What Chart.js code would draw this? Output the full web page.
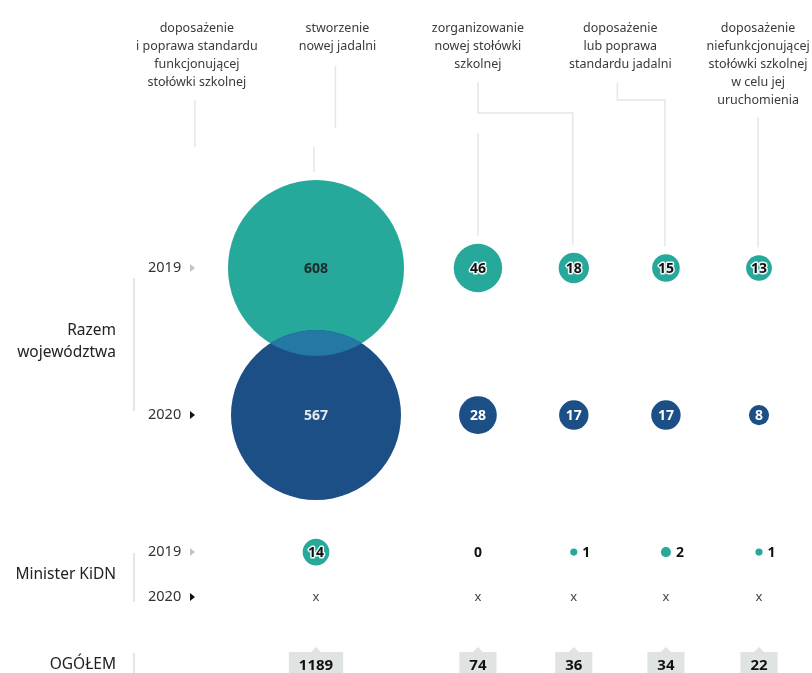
<!DOCTYPE html>
<html lang="pl">
<head>
<meta charset="utf-8">
<title>Stołówki szkolne 2019-2020</title>
<script src="https://cdn.jsdelivr.net/npm/chart.js@4.4.1/dist/chart.umd.min.js"></script>
<style>
  html, body { margin: 0; padding: 0; background: #fff; }
  #wrap { position: relative; width: 812px; height: 673px; }
</style>
</head>
<body>
<div id="wrap"><canvas id="bubblechart"></canvas></div>
<script>
    // ---------- DANE ----------
    const kategorie = [
        ["doposażenie", "i poprawa standardu", "funkcjonującej", "stołówki szkolnej"],
        ["stworzenie", "nowej jadalni"],
        ["zorganizowanie", "nowej stołówki", "szkolnej"],
        ["doposażenie", "lub poprawa", "standardu jadalni"],
        ["doposażenie", "niefunkcjonującej", "stołówki szkolnej", "w celu jej", "uruchomienia"]
    ];
    const lata = ["2019", "2020"];
    const grupy = [["Razem", "województwa"], ["Minister KiDN"], ["OGÓŁEM"]];

    const wojewodztwa2019 = [608, 46, 18, 15, 13];
    const wojewodztwa2020 = [567, 28, 17, 17, 8];
    const minister2019 = [14, 0, 1, 2, 1];
    const minister2020 = [null, null, null, null, null];   // "x" w tabeli
    const ogolem = [1189, 74, 36, 34, 22];

    // ---------- UKŁAD (jednostki osi, nie dane) ----------
    const kolumnyX = [0, 1.74, 2.77, 3.76, 4.76];
    const naglowkiX = [-1.28, 0.23, 1.74, 3.27, 4.75];
    const wierszeY = [0, 1, 1.932, 2.238, 2.70];
    const SKALA_R = 3.57;           // promień = SKALA_R * sqrt(wartość)

    const TURKUS = "#26a89b";
    const GRANAT = "#1b4f85";
    const WSPOLNY = "#2478a4";
    const FONT = '"Noto Sans", "DejaVu Sans", sans-serif';

    function punkty(wartosci, wiersz) {
        return wartosci.map((v, i) => ({ x: kolumnyX[i], y: wierszeY[wiersz], v: v }));
    }

    const px = (chart, i) => chart.scales.x.getPixelForValue(kolumnyX[i]);
    const py = (chart, w) => chart.scales.y.getPixelForValue(wierszeY[w]);

    function gornaKrawedz(chart, i) {
        const el = chart.getDatasetMeta(0).data[i];
        return el.y - el.options.radius - 8;
    }

    // ---------- LINIE OD NAGŁÓWKÓW ----------
    function rysujLinie(chart) {
        const ctx = chart.ctx;
        const hx = i => chart.scales.x.getPixelForValue(naglowkiX[i]);
        const odcinki = [
            [[hx(0) - 2, 100], [hx(0) - 2, 147]],
            [[hx(1) - 2, 66], [hx(1) - 2, 128]],
            [[px(chart, 0) - 2, 147], [px(chart, 0) - 2, gornaKrawedz(chart, 0)]],
            [[hx(2), 82], [hx(2), 113], [px(chart, 2) - 1, 113], [px(chart, 2) - 1, gornaKrawedz(chart, 2)]],
            [[px(chart, 1), 133], [px(chart, 1), gornaKrawedz(chart, 1)]],
            [[hx(3) - 3, 83], [hx(3) - 3, 100], [px(chart, 3) - 1, 100], [px(chart, 3) - 1, gornaKrawedz(chart, 3)]],
            [[hx(4), 117], [hx(4), gornaKrawedz(chart, 4)]]
        ];
        ctx.save();
        ctx.strokeStyle = "#e6e6e6";
        ctx.lineWidth = 1.5;
        odcinki.forEach(o => {
            ctx.beginPath();
            o.forEach((p, k) => k === 0 ? ctx.moveTo(p[0], p[1]) : ctx.lineTo(p[0], p[1]));
            ctx.stroke();
        });
        ctx.restore();
    }

    function rysujNaglowki(chart) {
        const ctx = chart.ctx;
        ctx.save();
        ctx.font = "12.5px " + FONT;
        ctx.fillStyle = "#3a3a3a";
        ctx.textAlign = "center";
        ctx.textBaseline = "middle";
        kategorie.forEach((linie, i) => {
            const x = chart.scales.x.getPixelForValue(naglowkiX[i]);
            linie.forEach((t, k) => ctx.fillText(t, x, 28 + k * 18.2));
        });
        ctx.restore();
    }

    // ---------- OPISY WIERSZY ----------
    function rysujOpisyWierszy(chart) {
        const ctx = chart.ctx;
        ctx.save();
        ctx.textBaseline = "middle";

        // lata + strzałki
        ctx.font = "14.5px " + FONT;
        [0, 1, 2, 3].forEach(w => {
            const y = py(chart, w);
            ctx.fillStyle = "#333";
            ctx.textAlign = "left";
            ctx.fillText(lata[w % 2], 148, y);
            ctx.fillStyle = w % 2 === 0 ? "#c4c4c4" : "#111";
            ctx.beginPath();
            ctx.moveTo(190, y - 4);
            ctx.lineTo(195, y);
            ctx.lineTo(190, y + 4);
            ctx.closePath();
            ctx.fill();
        });

        // nazwy grup
        ctx.font = "15.5px " + FONT;
        ctx.fillStyle = "#222";
        ctx.textAlign = "right";
        const srodekRazem = (py(chart, 0) + py(chart, 1)) / 2;
        ctx.fillText(grupy[0][0], 116, srodekRazem - 11);
        ctx.fillText(grupy[0][1], 116, srodekRazem + 11);
        ctx.fillText(grupy[1][0], 116, (py(chart, 2) + py(chart, 3)) / 2);
        ctx.fillText(grupy[2][0], 116, py(chart, 4));

        // pionowe kreski przy grupach
        ctx.strokeStyle = "#dcdcdc";
        ctx.lineWidth = 1.5;
        const kreski = [
            [py(chart, 0) + 10, py(chart, 1) - 4],
            [py(chart, 2) + 1, py(chart, 3) + 5],
            [py(chart, 4) - 12, chart.height]
        ];
        kreski.forEach(k => {
            ctx.beginPath();
            ctx.moveTo(134, k[0]);
            ctx.lineTo(134, k[1]);
            ctx.stroke();
        });
        ctx.restore();
    }

    // ---------- CZĘŚĆ WSPÓLNA KÓŁ ----------
    function rysujNakladanie(chart) {
        const ctx = chart.ctx;
        const a = chart.getDatasetMeta(0).data;
        const b = chart.getDatasetMeta(1).data;
        a.forEach((e1, i) => {
            const e2 = b[i];
            const r1 = e1.options.radius, r2 = e2.options.radius;
            if (Math.hypot(e1.x - e2.x, e1.y - e2.y) >= r1 + r2) return;
            ctx.save();
            ctx.beginPath();
            ctx.arc(e1.x, e1.y, r1, 0, Math.PI * 2);
            ctx.clip();
            ctx.beginPath();
            ctx.arc(e2.x, e2.y, r2, 0, Math.PI * 2);
            ctx.fillStyle = WSPOLNY;
            ctx.fill();
            ctx.restore();
        });
    }

    // ---------- WARTOŚCI ----------
    function rysujWartosci(chart) {
        const ctx = chart.ctx;
        const serie = [
            { ds: 0, wartosci: wojewodztwa2019, kolor: "#111", obrys: true },
            { ds: 1, wartosci: wojewodztwa2020, kolor: "#fff", obrys: false },
            { ds: 2, wartosci: minister2019, kolor: "#111", obrys: true }
        ];
        ctx.save();
        ctx.font = "bold 14px " + FONT;
        ctx.textBaseline = "middle";
        ctx.lineJoin = "round";
        serie.forEach(s => {
            chart.getDatasetMeta(s.ds).data.forEach((el, i) => {
                const v = s.wartosci[i];
                if (v === null) return;
                const r = el.options.radius;
                let x = el.x;
                ctx.textAlign = "center";
                if (v > 0 && r < 8) {
                    x = el.x + r + 5;
                    ctx.textAlign = "left";
                }
                const duze = r > 40;
                if (s.obrys && !duze && r >= 8) {
                    ctx.strokeStyle = "rgba(255,255,255,0.9)";
                    ctx.lineWidth = 3;
                    ctx.strokeText(String(v), x, el.y + 1);
                }
                ctx.fillStyle = duze ? (s.obrys ? "#1c2a2a" : "#e4e8ee") : s.kolor;
                ctx.fillText(String(v), x, el.y + 1);
            });
        });
        ctx.restore();
    }

    function rysujIksy(chart) {
        const ctx = chart.ctx;
        ctx.save();
        ctx.font = "13px " + FONT;
        ctx.fillStyle = "#444";
        ctx.textAlign = "center";
        ctx.textBaseline = "middle";
        minister2020.forEach((v, i) => {
            if (v === null) ctx.fillText("x", px(chart, i), py(chart, 3));
        });
        ctx.restore();
    }

    function rysujOgolem(chart) {
        const ctx = chart.ctx;
        ctx.save();
        ctx.font = "bold 15px " + FONT;
        ctx.textAlign = "center";
        ctx.textBaseline = "middle";
        const y = py(chart, 4);
        ogolem.forEach((v, i) => {
            const x = px(chart, i);
            const w = ctx.measureText(String(v)).width;
            ctx.fillStyle = "#dfe4e2";
            ctx.fillRect(x - w / 2 - 10, y - 13, w + 20, chart.height - y + 13);
            ctx.beginPath();
            ctx.moveTo(x - 5, y - 13);
            ctx.lineTo(x, y - 18);
            ctx.lineTo(x + 5, y - 13);
            ctx.closePath();
            ctx.fill();
            ctx.fillStyle = "#111";
            ctx.fillText(String(v), x, y + 1);
        });
        ctx.restore();
    }

    const opisy = {
        id: "opisy",
        beforeDatasetsDraw(chart) {
            rysujLinie(chart);
            rysujNaglowki(chart);
            rysujOpisyWierszy(chart);
        },
        afterDatasetsDraw(chart) {
            rysujNakladanie(chart);
            rysujWartosci(chart);
            rysujIksy(chart);
            rysujOgolem(chart);
        }
    };

    const promien = c => (c.raw && c.raw.v > 0 ? SKALA_R * Math.sqrt(c.raw.v) : 0);

    // ---------- WYKRES ----------
    new Chart(document.getElementById("bubblechart"), {
        type: "bubble",
        data: {
            datasets: [
                { label: "Razem województwa 2019", data: punkty(wojewodztwa2019, 0), backgroundColor: TURKUS, order: 2 },
                { label: "Razem województwa 2020", data: punkty(wojewodztwa2020, 1), backgroundColor: GRANAT, order: 1 },
                { label: "Minister KiDN 2019", data: punkty(minister2019, 2), backgroundColor: TURKUS, order: 3 }
            ]
        },
        options: {
            responsive: true,
            maintainAspectRatio: false,
            animation: false,
            events: [],
            layout: { autoPadding: false, padding: { left: 316, right: 53, top: 268, bottom: 8 } },
            datasets: { bubble: { radius: promien, borderWidth: 0, clip: false } },
            scales: {
                x: { type: "linear", min: 0, max: 4.76, display: false },
                y: { type: "linear", min: 0, max: 2.70, reverse: true, display: false }
            },
            plugins: {
                legend: { display: false },
                tooltip: { enabled: false }
            }
        },
        plugins: [opisy]
    });
</script>
</body>
</html>
